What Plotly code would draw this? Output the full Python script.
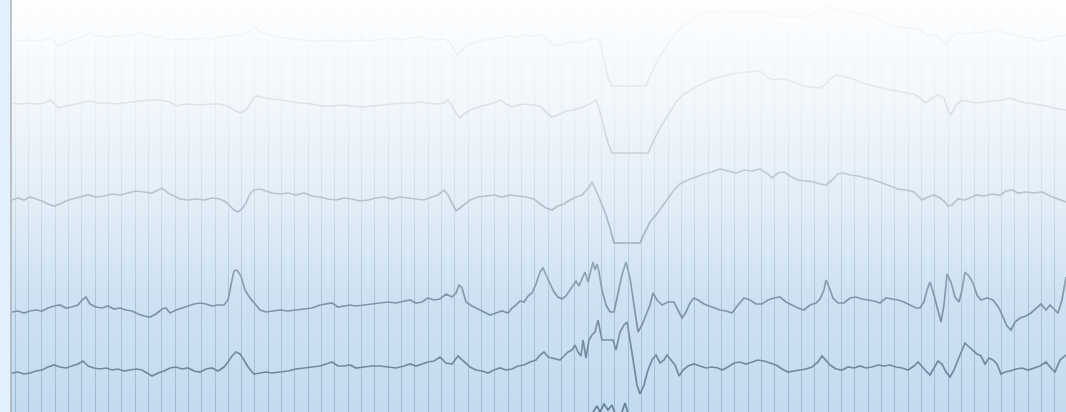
import plotly.graph_objects as go

# ---- data (pixel-space readings: x = horizontal position, y = vertical position from top) ----
t1_x = [12,20,28,36,44,50,55,58,62,68,76,84,90,98,106,114,122,130,140,150,160,170,180,190,200,210,220,230,240,248,252,256,260,266,274,282,292,302,312,322,332,342,352,362,372,382,392,402,412,420,428,436,444,450,454,458,462,468,476,484,492,500,508,516,524,532,540,548,556,564,572,580,588,596,600,604,608,612,620,632,646,652,658,664,670,676,682,690,698,706,714,722,730,738,746,754,762,770,778,786,794,802,810,818,824,828,834,842,850,858,866,874,882,890,898,906,914,920,924,928,934,940,944,948,952,958,966,974,982,990,998,1006,1014,1022,1030,1038,1046,1054,1062,1066]
t1_y = [40,41,40,41,40,38,42,47,44,42,39,36,33,36,37,36,37,35,33,36,37,40,39,40,38,39,37,36,35,33,28,27,32,34,36,38,39,40,41,41,40,42,41,40,41,39,38,40,38,37,39,40,39,42,50,55,50,44,42,40,39,38,36,37,35,36,34,40,46,44,42,43,40,38,42,60,78,86,86,86,86,72,60,50,42,33,27,21,16,13,12,10,11,13,12,11,12,14,16,17,16,18,15,10,6,5,8,11,12,13,15,17,21,25,27,28,28,30,33,36,34,38,44,42,35,33,34,32,33,31,30,33,35,37,38,41,40,37,36,35]

t2_x = [12,20,28,36,44,50,55,58,62,68,76,84,90,98,106,114,122,130,140,150,160,170,176,180,190,200,210,220,228,234,240,246,250,254,258,264,272,282,292,302,312,322,332,342,352,362,372,382,392,402,412,420,428,436,444,448,452,456,460,464,470,478,486,494,500,506,512,518,526,534,540,546,552,558,566,574,582,590,596,600,604,608,612,620,632,648,654,660,668,676,684,692,700,708,716,724,732,740,748,756,762,768,774,780,788,796,804,812,820,826,830,836,842,850,858,866,874,882,890,898,906,914,920,926,932,938,944,948,951,956,962,970,978,986,994,1002,1010,1018,1026,1034,1042,1050,1058,1066]
t2_y = [103,104,103,104,103,100,104,108,107,106,104,102,101,103,103,104,103,102,101,100,100,102,106,105,104,105,104,104,106,110,113,110,104,97,96,98,99,100,102,103,104,106,106,105,106,107,106,105,104,103,103,102,103,104,103,100,106,113,118,114,110,107,105,103,100,104,107,105,104,105,106,112,117,115,111,110,107,104,100,112,128,143,153,153,153,153,140,128,115,102,94,89,85,81,78,76,74,73,72,71,72,78,80,79,80,83,86,87,88,84,79,75,76,78,81,84,86,88,90,91,93,94,98,103,98,95,98,110,115,105,100,102,103,102,101,100,98,101,103,104,105,107,109,110]

t3_x = [12,18,24,30,36,42,48,54,60,66,72,80,88,96,104,112,120,128,136,144,152,158,162,168,174,180,188,196,204,212,220,226,230,234,238,242,246,250,254,260,266,272,280,288,296,304,312,320,328,336,344,352,360,368,376,384,392,400,408,416,424,432,438,444,448,452,456,460,464,470,478,486,494,502,510,518,526,534,540,546,552,558,564,570,576,582,586,590,592,595,598,602,606,610,614,624,634,640,645,650,656,662,668,674,680,688,696,704,712,720,728,736,744,752,760,768,772,778,784,790,798,806,814,820,826,832,838,844,850,858,866,874,882,890,898,906,914,918,922,928,934,940,944,948,952,958,964,970,976,984,992,1000,1006,1012,1018,1026,1034,1042,1050,1058,1066]
t3_y = [200,198,200,197,199,201,204,206,204,201,199,197,195,197,196,194,195,193,191,192,193,190,188,193,196,199,200,199,200,198,199,202,206,210,212,209,203,194,190,189,191,193,194,193,195,193,196,197,199,200,198,199,201,200,198,197,199,197,198,199,200,197,195,190,195,203,211,208,205,200,197,196,195,197,195,196,197,199,204,208,210,206,204,200,197,195,191,186,182,188,195,205,215,228,243,243,243,243,232,222,215,207,198,190,184,180,177,174,172,169,171,173,170,171,169,174,178,173,172,176,180,181,182,184,185,180,174,173,175,176,178,180,183,186,189,190,192,196,200,197,195,198,201,206,205,199,200,198,195,196,194,195,191,190,193,192,193,192,196,199,202]

t4_x = [12,18,24,30,36,42,48,54,60,66,72,78,82,86,90,96,102,108,114,120,126,132,138,144,150,156,162,166,170,176,182,188,194,200,206,212,218,224,228,231,234,237,241,245,250,256,260,266,272,280,288,296,304,312,320,326,332,338,344,350,356,364,372,380,388,396,404,410,416,422,428,434,440,446,452,456,459,462,466,472,478,484,490,496,502,508,512,516,520,524,528,532,536,540,543,546,550,554,558,562,566,570,573,576,579,582,585,588,591,593,595,597,599,602,606,610,614,618,622,626,630,634,638,642,646,650,653,657,662,668,674,678,682,686,690,694,698,704,710,716,720,726,732,738,744,750,756,762,768,774,780,786,792,798,804,810,816,820,824,826,829,833,838,844,850,856,862,868,874,880,886,892,898,904,910,916,920,924,927,930,934,938,941,944,947,951,955,959,962,965,969,973,977,981,987,993,999,1003,1007,1011,1015,1020,1026,1031,1036,1041,1046,1050,1054,1058,1062,1066]
t4_y = [312,311,313,311,310,311,308,306,305,308,307,305,300,297,304,307,308,306,309,308,310,311,314,316,317,314,309,308,313,310,308,306,304,303,304,306,305,305,300,285,271,270,276,290,298,305,310,312,311,310,311,310,309,308,305,304,303,307,306,305,306,305,304,303,302,303,301,300,303,302,298,300,299,294,297,293,285,288,302,306,309,312,315,313,311,313,308,305,301,302,296,293,284,272,268,275,283,292,297,299,296,290,285,281,286,278,272,282,268,262,270,264,272,290,305,312,312,295,275,262,278,305,332,325,315,305,293,300,305,302,302,310,318,312,303,298,300,304,306,308,310,311,313,305,298,300,304,304,300,298,297,302,305,308,310,305,303,299,290,280,287,298,303,303,298,297,299,300,301,303,298,299,300,302,305,308,308,302,290,282,295,310,322,305,274,282,297,302,290,272,276,283,295,300,298,300,308,317,326,330,322,318,316,313,308,304,310,305,309,313,300,277]

t5_x = [12,18,24,30,36,42,48,54,60,66,72,78,83,88,94,100,106,112,118,124,130,136,142,148,152,158,164,170,176,182,188,194,200,206,212,218,224,228,232,236,240,244,248,254,260,266,272,280,288,296,304,312,320,326,332,338,344,350,356,364,372,380,388,396,404,410,416,422,428,434,440,446,452,458,464,470,476,482,488,494,500,506,512,518,524,530,536,540,544,548,552,556,560,564,568,572,575,578,581,583,586,589,592,595,598,600,602,608,613,616,620,624,627,630,633,637,640,644,648,652,656,660,664,667,671,675,679,683,688,694,700,706,712,718,722,728,734,740,746,752,758,764,770,776,782,788,794,800,806,812,818,822,826,830,836,842,848,854,860,866,872,878,884,890,896,902,908,914,918,922,926,930,934,938,942,946,950,954,958,962,965,969,973,977,981,985,989,993,997,1001,1005,1010,1016,1022,1028,1034,1040,1046,1050,1055,1060,1066]
t5_y = [373,372,374,373,371,370,367,365,367,368,366,364,361,366,368,369,368,370,369,371,370,369,370,374,376,373,371,368,367,369,368,371,372,369,368,371,367,362,356,352,354,360,367,374,373,372,373,372,371,369,368,367,366,364,362,366,366,365,368,367,366,366,367,368,366,364,366,364,362,361,357,363,364,356,362,367,370,371,373,370,368,370,369,366,365,362,360,355,352,357,358,359,360,356,352,350,345,352,356,340,358,340,335,332,320,330,340,340,340,350,332,325,322,340,360,385,394,385,370,360,355,363,360,355,360,365,376,370,366,364,366,368,367,368,370,367,363,362,364,362,360,361,363,365,369,372,371,370,369,367,362,356,360,365,369,370,367,368,366,368,367,365,366,365,367,368,370,366,362,367,371,375,368,361,364,372,377,370,360,350,343,347,351,354,356,364,358,360,364,374,372,371,369,368,370,368,366,362,367,372,360,355]

t6_x = [585,592,597,600,604,608,612,616,620,625,630,638]
t6_y = [425,414,406,412,404,410,405,416,418,403,420,428]

traces = [(t1_x, t1_y), (t2_x, t2_y), (t3_x, t3_y), (t4_x, t4_y), (t5_x, t5_y), (t6_x, t6_y)]

W, H = 1066, 412
grid_start, grid_step = 15, 13.333

fig = go.Figure()
for tx, ty in traces:
    fig.add_trace(go.Scatter(x=tx, y=ty, mode="lines",
                             line=dict(color="rgb(104,128,150)", width=1.7),
                             hoverinfo="skip", showlegend=False))

# white wash fading downward (gives the light top of the sheet)
fig.add_trace(go.Scatter(
    x=[0, W, W, 0, 0], y=[0, 0, H, H, 0], mode="none", fill="toself",
    fillgradient=dict(type="vertical", start=0, stop=H,
                      colorscale=[[0, "rgba(255,255,255,0.97)"],
                                  [0.1, "rgba(255,255,255,0.9)"],
                                  [0.25, "rgba(255,255,255,0.78)"],
                                  [0.5, "rgba(255,255,255,0.5)"],
                                  [0.73, "rgba(255,255,255,0.17)"],
                                  [1, "rgba(255,255,255,0.0)"]]),
    hoverinfo="skip", showlegend=False))

fig.update_layout(
    width=W, height=H, margin=dict(l=0, r=0, t=0, b=0),
    paper_bgcolor="rgb(196,219,239)", plot_bgcolor="rgb(196,219,239)",
    xaxis=dict(range=[0, W], showticklabels=False, zeroline=False,
               showgrid=True, gridcolor="rgb(152,186,214)", gridwidth=1.2,
               tickmode="linear", tick0=grid_start, dtick=grid_step, ticks=""),
    yaxis=dict(range=[H, 0], showticklabels=False, zeroline=False,
               showgrid=False),
    shapes=[
        dict(type="rect", xref="x", yref="paper", x0=0, x1=10.5, y0=0, y1=1,
             fillcolor="rgb(225,241,252)", line_width=0, layer="above"),
        dict(type="line", xref="x", yref="paper", x0=11, x1=11, y0=0, y1=1,
             line=dict(color="rgb(172,176,180)", width=1.5), layer="above"),
    ],
)

fig.write_html("out.html")
